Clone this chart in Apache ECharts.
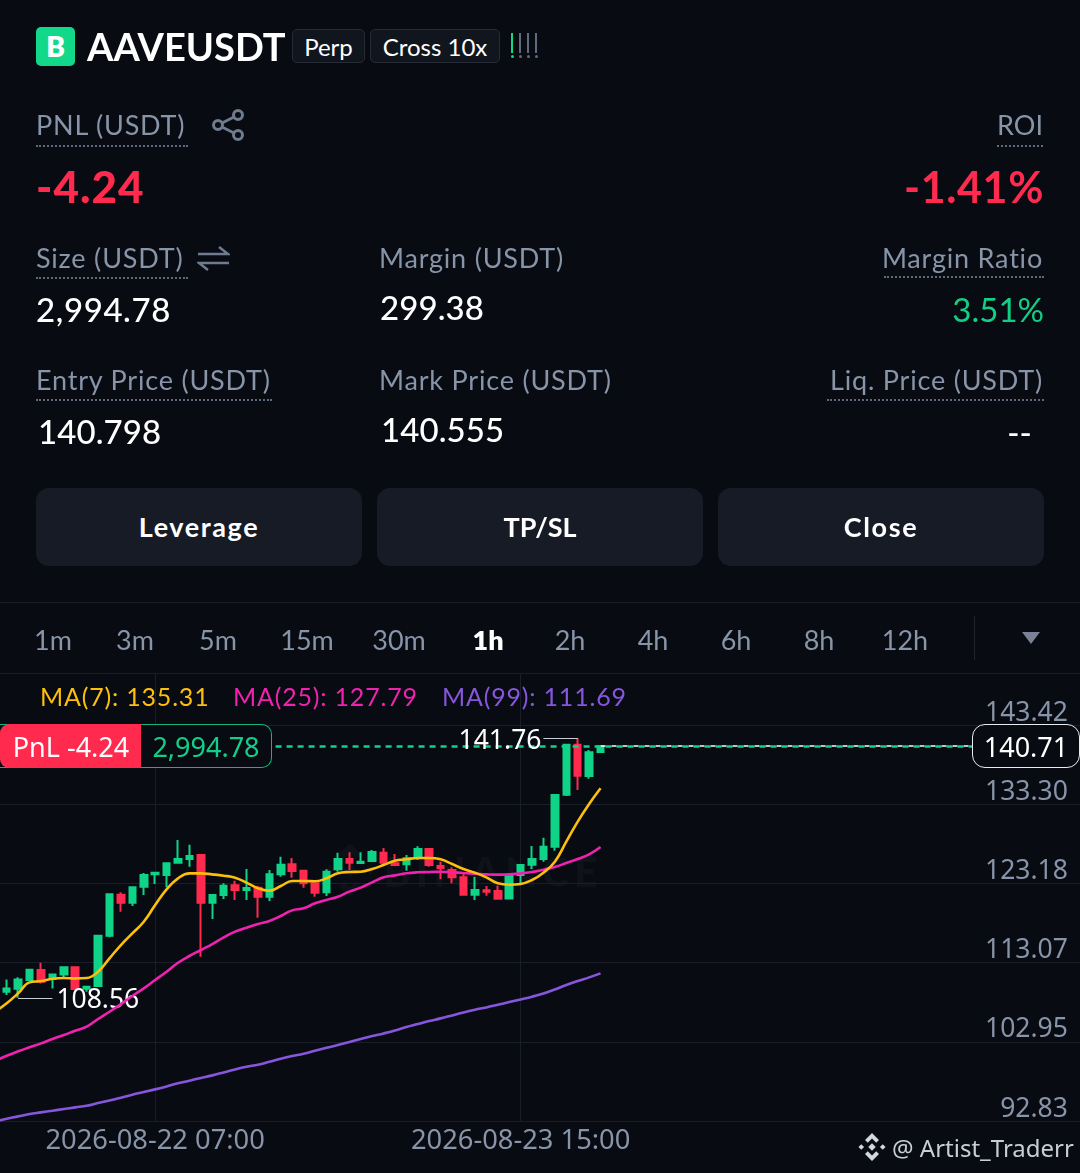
<!DOCTYPE html>
<html><head><meta charset="utf-8">
<script src="https://cdn.jsdelivr.net/npm/echarts@6/dist/echarts.min.js"></script>
<style>
html,body{margin:0;padding:0;background:#080b12;width:1080px;height:1173px;overflow:hidden}
body{position:relative;font-family:Lato,"Noto Sans",sans-serif;color:#fff}
.t{position:absolute;white-space:nowrap;line-height:1;transform:translateY(calc(-50% - 1px))}
.r{transform:translate(-100%,calc(-50% - 1px))}
.c{transform:translate(-50%,calc(-50% - 1px))}
.g{color:#8894a8}
.l{letter-spacing:0.8px}
.v{letter-spacing:0.1px;font-size:33px;font-weight:500}
.dot{position:absolute;height:0;border-top:2px dotted #5f6a7c}
.hr{position:absolute;left:0;width:1080px;height:1px;background:#1a1e28}
.box{position:absolute;box-sizing:border-box}
.btn{position:absolute;top:488px;width:326px;height:78px;line-height:78px;border-radius:13px;background:#161b25;text-align:center;font-size:27px;font-weight:700;letter-spacing:1.6px}
.mark{position:absolute;top:33px;width:2px;height:20px;background:#5f6a7c}
.mark:after{content:"";position:absolute;left:0;top:22px;width:3px;height:3px;border-radius:50%;background:inherit}
#chart{position:absolute;left:-11px;top:0;width:1110px;height:1173px}
</style></head><body>
<svg class="box" style="left:322px;top:842px" width="56" height="56" viewBox="-28 -28 56 56" fill="rgba(255,255,255,0.028)"><path d="M0 -27L11 -16L6 -11L0 -17L-6 -11L-11 -16Z"/><path d="M0 27L11 16L6 11L0 17L-6 11L-11 16Z"/><path d="M0 -7L7 0L0 7L-7 0Z"/><path d="M-20 -5L-15 0L-20 5L-25 0Z"/><path d="M20 -5L25 0L20 5L15 0Z"/></svg>
<div class="t" style="left:383px;top:872px;font:800 42px Lato;letter-spacing:4.5px;color:rgba(255,255,255,0.028)">BINANCE</div>
<div id="chart"></div>

<div class="box" style="left:36px;top:27px;width:39px;height:39px;border-radius:5px;background:#12d98a;text-align:center;font:800 28px/39px Lato">B</div>
<div class="t" style="left:87px;top:47px;font-size:38px;font-weight:700">AAVEUSDT</div>
<div class="box" style="left:292px;top:29px;width:73px;height:34px;border:1px solid #262b36;border-radius:5px;background:#11151d;text-align:center;font-size:24px;line-height:33px">Perp</div>
<div class="box" style="left:370px;top:29px;width:130px;height:34px;border:1px solid #262b36;border-radius:5px;background:#11151d;text-align:center;font-size:24px;line-height:33px">Cross 10x</div>
<div class="mark" style="left:511px;background:#12d98a"></div><div class="mark" style="left:519px"></div><div class="mark" style="left:527px"></div><div class="mark" style="left:535px"></div>

<div class="t g l" style="left:36px;top:125px;font-size:27px">PNL (USDT)</div><div class="dot" style="left:36px;top:145px;width:152px"></div>
<svg class="box" style="left:212px;top:108px" width="34" height="34" viewBox="0 0 34 34" fill="none" stroke="#6f7b8e" stroke-width="3"><circle cx="6" cy="17" r="4.5"/><circle cx="26" cy="7" r="4.5"/><circle cx="26" cy="27" r="4.5"/><path d="M10 15L22 9M10 19L22 25"/></svg>
<div class="t g r" style="left:1043px;top:125px;font-size:27px">ROI</div><div class="dot" style="left:997px;top:145px;width:46px"></div>
<div class="t" style="left:36px;top:187px;font-size:44px;font-weight:900;letter-spacing:1px;color:#ff2a4d">-4.24</div>
<div class="t r" style="left:1044px;top:187px;font-size:43px;font-weight:700;letter-spacing:0.6px;color:#ff2a4d">-1.41%</div>

<div class="t g l" style="left:36px;top:258px;font-size:27px">Size (USDT)</div><div class="dot" style="left:36px;top:277px;width:152px"></div>
<svg class="box" style="left:197px;top:245px" width="33" height="27" viewBox="0 0 33 27" fill="none" stroke="#6f7b8e" stroke-width="2.5"><path d="M1 9H31L22 2M32 18H2L11 25"/></svg>
<div class="t g l" style="left:379px;top:258px;font-size:27px">Margin (USDT)</div>
<div class="t g l r" style="left:1043px;top:258px;font-size:27px">Margin Ratio</div><div class="dot" style="left:884px;top:276px;width:160px"></div>
<div class="t v" style="left:36px;top:310px;letter-spacing:0.6px">2,994.78</div>
<div class="t v" style="left:380px;top:308px">299.38</div>
<div class="t r" style="left:1044px;top:310px;font-size:33px;color:#12cf87">3.51%</div>

<div class="t g l" style="left:36px;top:380px;font-size:27px">Entry Price (USDT)</div><div class="dot" style="left:36px;top:399px;width:236px"></div>
<div class="t g l" style="left:379px;top:380px;font-size:27px">Mark Price (USDT)</div>
<div class="t g l r" style="left:1043px;top:380px;font-size:27px">Liq. Price (USDT)</div><div class="dot" style="left:827px;top:399px;width:217px"></div>
<div class="t v" style="left:38px;top:432px">140.798</div>
<div class="t v" style="left:381px;top:430px">140.555</div>
<div class="t v r" style="left:1032px;top:433px">--</div>

<div class="btn" style="left:36px">Leverage</div><div class="btn" style="left:377px;letter-spacing:0">TP/SL</div><div class="btn" style="left:718px">Close</div>

<div class="hr" style="top:602px"></div>
<div class="t g c" style="left:53px;top:640px;font-size:27px">1m</div>
<div class="t g c" style="left:135px;top:640px;font-size:27px">3m</div>
<div class="t g c" style="left:218px;top:640px;font-size:27px">5m</div>
<div class="t g c" style="left:307px;top:640px;font-size:27px">15m</div>
<div class="t g c" style="left:399px;top:640px;font-size:27px">30m</div>
<div class="t c" style="left:488px;top:640px;font-size:27px;font-weight:800">1h</div>
<div class="t g c" style="left:570px;top:640px;font-size:27px">2h</div>
<div class="t g c" style="left:653px;top:640px;font-size:27px">4h</div>
<div class="t g c" style="left:736px;top:640px;font-size:27px">6h</div>
<div class="t g c" style="left:819px;top:640px;font-size:27px">8h</div>
<div class="t g c" style="left:905px;top:640px;font-size:27px">12h</div>
<div class="box" style="left:974px;top:616px;width:1px;height:44px;background:#1e232d"></div>
<svg class="box" style="left:1022px;top:632px" width="18" height="12"><path d="M0 0H18L9 12Z" fill="#7a8296"/></svg>
<div class="hr" style="top:673px"></div>

<div class="t l" style="left:40px;top:697px;font-size:25px;color:#fcbf0c">MA(7): 135.31</div>
<div class="t l" style="left:233px;top:697px;font-size:25px;color:#f022b0">MA(25): 127.79</div>
<div class="t l" style="left:442px;top:697px;font-size:25px;color:#8656dc">MA(99): 111.69</div>

<div class="box" style="left:0;top:724px;width:272px;height:44px;border:1px solid #12b679;border-left:0;border-radius:0 10px 10px 0;background:#080b12"></div>
<div class="box" style="left:0;top:724px;width:141px;height:44px;border-radius:9px 0 0 9px;background:#ff2a4d"></div>
<div class="t c" style="left:71px;top:747px;font:27px 'Noto Sans';color:#fff">PnL -4.24</div>
<div class="t c" style="left:206px;top:747px;font:27px 'Noto Sans';color:#12cf87">2,994.78</div>

<div class="box" style="left:972px;top:724px;width:108px;height:44px;border:1.5px solid #e8ecef;border-radius:13px;background:#080b12"></div>
<div class="t c" style="left:1026px;top:747px;font:27px 'Noto Sans';color:#fff">140.71</div>

<svg class="box" style="left:858px;top:1133px" width="28" height="28" viewBox="-15 -15 30 30" fill="#d3d8de"><path d="M0 -15L7.5 -7.5L4.5 -4.5L0 -9L-4.5 -4.5L-7.5 -7.5Z"/><path d="M0 15L7.5 7.5L4.5 4.5L0 9L-4.5 4.5L-7.5 7.5Z"/><path d="M0 -4L4 0L0 4L-4 0Z"/><path d="M-11.5 -3L-8.5 0L-11.5 3L-14.5 0Z"/><path d="M11.5 -3L14.5 0L11.5 3L8.5 0Z"/></svg>
<div class="t" style="left:892px;top:1148px;font:24px 'Noto Sans';color:#c8ced6">@ Artist_Traderr</div>

<script>
const opens=[109.35,109.73,110.84,112.12,110.97,111.56,112.46,109.73,110.07,116.50,121.74,120.72,122.77,124.34,124.26,125.83,126.30,126.81,120.72,121.70,122.94,122.34,122.64,121.49,124.34,125.62,124.81,123.19,122.04,124.98,126.30,125.79,126.04,127.11,125.75,125.62,126.51,127.58,125.41,124.89,123.96,121.74,122.30,122.21,121.27,124.26,125.58,126.30,127.88,134.52,140.91,136.91,139.97];
const closes=[109.77,110.92,112.16,110.63,111.56,112.46,109.69,109.99,116.50,121.79,120.72,122.68,124.26,124.55,125.75,126.30,126.68,120.72,121.70,122.89,122.34,122.59,121.49,124.34,125.58,124.77,123.19,122.00,124.68,126.30,125.83,125.96,127.19,125.83,125.53,126.39,127.58,125.53,125.15,123.96,121.74,122.34,122.13,121.23,124.13,125.53,126.30,127.88,134.48,140.91,136.95,139.93,140.71];
const lows=[108.92,108.56,110.75,110.41,109.77,111.05,109.69,109.35,110.03,116.29,119.57,120.29,121.70,123.11,122.68,125.79,125.32,113.82,118.63,121.19,121.06,121.06,118.80,120.93,124.04,123.91,122.64,121.49,121.57,124.68,124.89,125.79,126.04,125.62,125.49,124.81,126.17,125.32,123.70,123.19,121.70,121.06,121.62,121.23,121.27,123.19,125.02,125.96,127.36,134.35,135.12,136.56,139.97];
const highs=[110.92,111.18,112.29,113.05,111.65,112.54,112.46,110.07,116.50,121.79,122.04,122.68,124.51,124.64,125.79,128.73,128.13,126.81,121.70,123.19,123.53,125.02,122.89,124.89,126.60,126.43,124.81,123.19,124.98,127.11,127.15,127.15,127.45,127.70,126.94,126.81,127.92,127.58,125.96,125.24,124.47,124.04,122.85,122.89,124.13,125.62,127.96,129.03,134.48,140.91,141.76,140.23,140.71];
const ma7=[106.79,107.86,109.14,110.54,110.71,111.01,111.10,111.05,111.10,111.90,113.61,115.31,116.80,118.29,120.42,122.42,123.83,124.47,124.47,124.34,124.17,123.91,123.28,122.55,122.25,122.85,123.49,123.49,123.45,123.83,124.47,124.64,124.68,125.02,125.53,126.09,126.26,126.43,126.43,126.26,125.66,125.02,124.55,123.96,123.19,123.02,123.11,123.62,124.55,125.96,128.51,131.07,133.33,135.33];
const ma25=[100.53,101.17,101.73,102.24,102.75,103.30,103.81,104.37,104.88,105.86,106.79,107.77,108.80,109.77,110.84,111.90,113.05,113.91,114.67,115.44,116.29,117.02,117.53,118.00,118.38,119.02,119.74,120.00,120.64,121.06,121.49,122.13,122.64,123.32,123.96,124.21,124.47,124.60,124.64,124.68,124.60,124.51,124.43,124.34,124.30,124.34,124.47,124.64,124.94,125.28,125.79,126.30,126.90,127.83];
const ma99=[92.74,93.12,93.42,93.72,93.93,94.14,94.36,94.57,94.78,95.12,95.46,95.80,96.19,96.53,96.87,97.25,97.64,97.98,98.32,98.66,99.04,99.42,99.77,100.02,100.40,100.79,101.13,101.42,101.81,102.19,102.53,102.91,103.30,103.68,104.02,104.40,104.83,105.21,105.60,105.94,106.32,106.70,107.04,107.34,107.68,108.02,108.36,108.71,109.13,109.64,110.20,110.71,111.18,111.69];
const yTicks=[92.83,102.95,113.07,123.18,133.30,143.42];
const xTickLabels=['2026-08-22 07:00','2026-08-23 15:00'];
const lastPrice=140.71, highPrice=141.76, lowPrice=108.56;

// one-hour candles; the first slot sits just off the left edge
const categories=[];
for(let i=0;i<96;i++){
  const d=new Date(Date.UTC(2026,7,21,17+i));
  const p=n=>String(n).padStart(2,'0');
  categories.push(d.getUTCFullYear()+'-'+p(d.getUTCMonth()+1)+'-'+p(d.getUTCDate())+' '+p(d.getUTCHours())+':00');
}
const candleData=['-'].concat(opens.map((o,i)=>[o,closes[i],lows[i],highs[i]]));
const GREEN='#0fd488',RED='#ff2a4d',GRID='#1a1e28';
const isTick=(i,v)=>xTickLabels.includes(v);
const maLine=(name,data,color)=>({name,type:'line',data,smooth:0.45,showSymbol:false,symbol:'none',lineStyle:{color,width:2.6},z:5,silent:true});
const noteLabel=(dx)=>({show:true,color:'#fff',fontFamily:'Noto Sans',fontSize:26.5,distance:1,position:'end',offset:[dx,3],formatter:p=>p.data.txt});
const note={color:'#c8ced6',width:1.2,type:'solid'};

const chart=echarts.init(document.getElementById('chart'),null,{width:1110,height:1173});
chart.setOption({
  animation:false,
  backgroundColor:'transparent',
  grid:{left:0.58,width:1096.32,top:673,bottom:52,containLabel:false},
  xAxis:{type:'category',data:categories,boundaryGap:true,
    axisLine:{show:true,lineStyle:{color:GRID}},axisTick:{show:false},
    axisLabel:{interval:isTick,color:'#8894a8',fontFamily:'Noto Sans',fontSize:27.3,margin:7,hideOverlap:false},
    splitLine:{show:true,interval:isTick,alignWithLabel:true,lineStyle:{color:GRID,width:1}}},
  yAxis:{type:'value',position:'right',min:92.83,max:150.063,scale:true,
    axisLine:{show:false},axisTick:{show:false,customValues:yTicks},
    axisLabel:{inside:true,margin:18,customValues:yTicks,color:'#8894a8',fontFamily:'Noto Sans',fontSize:26.5,lineHeight:24,verticalAlign:'bottom',formatter:v=>v.toFixed(2)},
    splitLine:{show:true,lineStyle:{color:GRID,width:1}}},
  series:[
    {name:'AAVEUSDT',type:'candlestick',data:candleData,barWidth:7,z:3,silent:true,
     itemStyle:{color:GREEN,color0:RED,borderColor:GREEN,borderColor0:RED,borderWidth:2},
     markLine:{silent:true,symbol:'none',animation:false,precision:2,
       lineStyle:{color:GREEN,width:2.5,type:[6,5]},
       data:[
        [{coord:[categories[53],lastPrice],lineStyle:{color:'#ffffff',width:1.5,type:[5,6]},label:{show:false}},{coord:[categories[95],lastPrice]}],
        {yAxis:lastPrice,lineStyle:{color:GREEN,width:2.5,type:[6,5]},label:{show:false}},
        [{coord:[categories[51],highPrice],lineStyle:note,label:noteLabel(-1),txt:highPrice.toFixed(2)},{coord:[categories[48],highPrice],txt:highPrice.toFixed(2)}],
        [{coord:[categories[2],lowPrice],lineStyle:note,label:noteLabel(3),txt:lowPrice.toFixed(2)},{coord:[categories[5],lowPrice],txt:lowPrice.toFixed(2)}]
       ]}},
    maLine('MA(99)',ma99,'#8656dc'),
    maLine('MA(25)',ma25,'#f022b0'),
    maLine('MA(7)',ma7,'#fcbf0c')
  ]
});
</script>
</body></html>
